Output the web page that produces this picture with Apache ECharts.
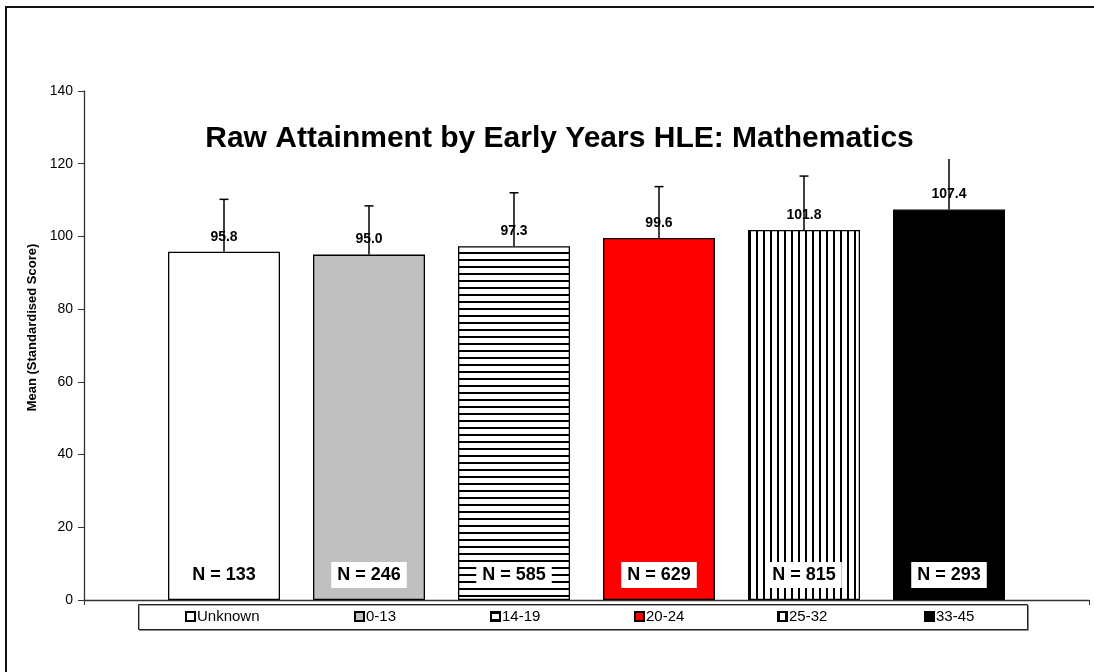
<!DOCTYPE html>
<html>
<head>
<meta charset="utf-8">
<script src="https://cdn.jsdelivr.net/npm/echarts@6/dist/echarts.min.js"></script>
<style>
  html, body { margin: 0; padding: 0; background: #fff; }
  #chart { width: 1094px; height: 672px; }
</style>
</head>
<body>
<div id="chart"></div>
<script>
// HLE bands, mean scores, upper error amount, sample sizes
var categories = ['Unknown', '0-13', '14-19', '20-24', '25-32', '33-45'];
var means = [95.8, 95.0, 97.3, 99.6, 101.8, 107.4];
var errPlus = [14.4, 13.4, 14.7, 14.1, 14.8, 15.1];
var counts = [133, 246, 585, 629, 815, 293];
var yTicks = [0, 20, 40, 60, 80, 100, 120, 140];

var FONT = '"Liberation Sans", Arial, sans-serif';
var BAR_W = 112, BAR_GAP = 33;
var legendLeft = [185, 354, 490, 634, 777, 924];

function hatch(horizontal) {
  var c = document.createElement('canvas');
  c.width = 7; c.height = 7;
  var g = c.getContext('2d');
  g.fillStyle = '#fff';
  g.fillRect(0, 0, 7, 7);
  g.fillStyle = '#000';
  if (horizontal) g.fillRect(0, 0, 7, 2);
  else g.fillRect(0, 0, 2, 7);
  return { image: c, repeat: 'repeat' };
}

var fills = ['#ffffff', '#c0c0c0', hatch(true), '#ff0000', hatch(false), '#000000'];

var chart = echarts.init(document.getElementById('chart'));

var series = categories.map(function (name, i) {
  return {
    name: name,
    type: 'bar',
    data: [means[i]],
    barWidth: BAR_W,
    barGap: (BAR_GAP / BAR_W * 100).toFixed(2) + '%',
    itemStyle: { color: fills[i], borderColor: '#000', borderWidth: 1.3 },
    label: {
      show: true,
      position: 'top',
      distance: 8,
      formatter: function (p) { return p.value.toFixed(1); },
      fontFamily: FONT,
      fontWeight: 'bold',
      fontSize: 14,
      color: '#000'
    },
    animation: false
  };
});

// error bars + N boxes
series.push({
  type: 'custom',
  z: 5,
  animation: false,
  data: means.map(function (m, i) { return [0, m + errPlus[i], m, i]; }),
  encode: { x: 0, y: 1 },
  renderItem: function (params, api) {
    var i = api.value(3);
    var step = BAR_W + BAR_GAP;
    var base = api.coord([0, 0]);
    var x = base[0] + (i - (categories.length - 1) / 2) * step;
    var yTop = api.coord([0, api.value(1)])[1];
    var yBar = api.coord([0, api.value(2)])[1];
    var ln = { stroke: '#000', lineWidth: 1.5 };
    return {
      type: 'group',
      children: [
        { type: 'line', shape: { x1: x, y1: yBar, x2: x, y2: yTop }, style: ln },
        { type: 'line', shape: { x1: x - 4.5, y1: yTop, x2: x + 4.5, y2: yTop }, style: ln },
        {
          type: 'text',
          style: {
            text: 'N = ' + counts[i],
            x: x, y: base[1] - 25,
            align: 'center', verticalAlign: 'middle',
            font: 'bold 18px ' + FONT,
            fill: '#000',
            backgroundColor: '#fff',
            padding: [4, 6]
          }
        }
      ]
    };
  }
});

var legends = categories.map(function (name, i) {
  return {
    data: [name],
    left: legendLeft[i],
    top: 609,
    padding: 0,
    itemWidth: 9,
    itemHeight: 9,
    itemGap: 0,
    icon: 'rect',
    selectedMode: false,
    textStyle: { fontFamily: FONT, fontSize: 15, color: '#000', padding: [0, 0, 0, -3] }
  };
});

chart.setOption({
  backgroundColor: '#fff',
  animation: false,
  grid: { left: 84, right: 5, top: 91, bottom: 72 },
  legend: legends,
  xAxis: {
    type: 'category',
    data: [''],
    axisLine: { lineStyle: { color: '#333', width: 1.3 } },
    axisTick: { show: true, length: 5, lineStyle: { color: '#333' } },
    axisLabel: { show: false }
  },
  yAxis: {
    type: 'value',
    min: yTicks[0],
    max: yTicks[yTicks.length - 1],
    interval: yTicks[1] - yTicks[0],
    name: 'Mean (Standardised Score)',
    nameLocation: 'middle',
    nameGap: 44,
    nameTextStyle: { fontFamily: FONT, fontWeight: 'bold', fontSize: 13, color: '#000', padding: [0, 0, 0, 36] },
    axisLine: { show: true, lineStyle: { color: '#333', width: 1.3 } },
    axisTick: { show: true, length: 6, lineStyle: { color: '#333' } },
    axisLabel: { fontFamily: FONT, fontSize: 14, color: '#000', margin: 11 },
    splitLine: { show: false }
  },
  graphic: [
    {
      type: 'polyline', z: 0,
      shape: { points: [[6, 672], [6, 7], [1094, 7]] },
      style: { stroke: '#111', lineWidth: 2, fill: null }
    },
    {
      type: 'rect', z: 0,
      shape: { x: 138.5, y: 604.5, width: 889, height: 25 },
      style: { fill: '#fff', stroke: '#222', lineWidth: 1, shadowColor: 'rgba(0,0,0,0.35)', shadowOffsetX: 1, shadowOffsetY: 1 }
    },
    {
      type: 'text', z: 10,
      style: {
        text: 'Raw Attainment by Early Years HLE: Mathematics',
        x: 559.5, y: 139,
        align: 'center', verticalAlign: 'middle',
        font: 'bold 30px ' + FONT,
        fill: '#000',
        backgroundColor: '#fff',
        padding: [6, 45, 4, 45]
      }
    }
  ],
  series: series
});
</script>
</body>
</html>
